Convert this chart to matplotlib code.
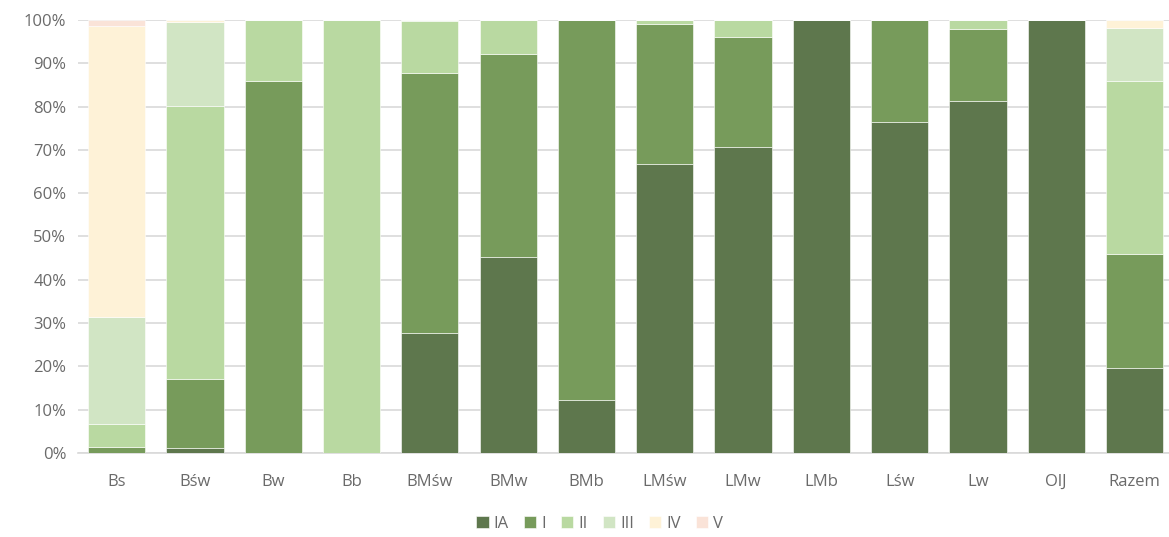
import numpy as np
import matplotlib
matplotlib.use("Agg")
import matplotlib.pyplot as plt

# =========================
# DATA
# =========================
CATEGORIES = ["Bs", "Bśw", "Bw", "Bb", "BMśw", "BMw", "BMb",
              "LMśw", "LMw", "LMb", "Lśw", "Lw", "OlJ", "Razem"]

SERIES = ["IA", "I", "II", "III", "IV", "V"]

IA = [0.0, 1.2, 0.0, 0.0, 27.6, 45.3, 12.2, 66.7, 70.6, 100.0, 76.5, 81.4, 100.0, 19.6]
I_ = [1.4, 15.9, 86.0, 0.0, 60.2, 46.9, 87.8, 32.4, 25.5, 0.0, 23.5, 16.5, 0.0, 26.4]
II = [5.2, 63.0, 14.0, 100.0, 11.9, 7.8, 0.0, 0.9, 3.9, 0.0, 0.0, 2.1, 0.0, 40.0]
III = [24.8, 19.4, 0.0, 0.0, 0.3, 0.0, 0.0, 0.0, 0.0, 0.0, 0.0, 0.0, 0.0, 12.2]
IV = [67.1, 0.5, 0.0, 0.0, 0.0, 0.0, 0.0, 0.0, 0.0, 0.0, 0.0, 0.0, 0.0, 1.8]
V = [1.5, 0.0, 0.0, 0.0, 0.0, 0.0, 0.0, 0.0, 0.0, 0.0, 0.0, 0.0, 0.0, 0.0]

COLOURS = {
    "IA": "#5E774D",
    "I": "#779B5B",
    "II": "#B9D9A1",
    "III": "#D1E5C4",
    "IV": "#FEF2D7",
    "V": "#FAE3D8",
}

Y_TICKS = [0, 10, 20, 30, 40, 50, 60, 70, 80, 90, 100]
TEXT_COLOUR = "#6A6A6A"

# =========================
# PLOT
# =========================
plt.rcParams["font.family"] = ["Open Sans", "DejaVu Sans"]

fig = plt.figure(figsize=(11.69, 5.37), dpi=100)
ax = fig.add_axes([0.0663, 0.1564, 0.9337, 0.8064])

values = [IA, I_, II, III, IV, V]
x = np.arange(len(CATEGORIES))
bottom = np.zeros(len(CATEGORIES))
handles = []
for name, vals in zip(SERIES, values):
    vals = np.array(vals)
    h = ax.bar(x, vals, bottom=bottom, width=0.73, color=COLOURS[name],
               edgecolor="#ffffff", linewidth=0.4, label=name, zorder=3)
    handles.append(h)
    bottom = bottom + vals

ax.set_xlim(-0.5, 13.44)
ax.set_ylim(0, 100)
ax.set_yticks(Y_TICKS)
ax.set_yticklabels([f"{t}%" for t in Y_TICKS])
ax.set_xticks(x)
ax.set_xticklabels(CATEGORIES)

ax.grid(axis="y", color="#D9D9D9", linewidth=1.2, zorder=0)
for s in ["top", "right", "left"]:
    ax.spines[s].set_visible(False)
ax.spines["bottom"].set_color("#D9D9D9")
ax.spines["bottom"].set_linewidth(1.2)
ax.tick_params(axis="both", length=0, colors=TEXT_COLOUR, labelsize=12)
ax.tick_params(axis="x", pad=15)
ax.tick_params(axis="y", pad=8)

fig.legend(handles=handles, labels=SERIES, loc="center", bbox_to_anchor=(0.513, 0.024),
           ncol=6, frameon=False, fontsize=12, handlelength=0.75, handleheight=0.75,
           handletextpad=0.3, columnspacing=0.9, labelcolor=TEXT_COLOUR,
           borderpad=0.2)

fig.savefig("out.png", dpi=100)
